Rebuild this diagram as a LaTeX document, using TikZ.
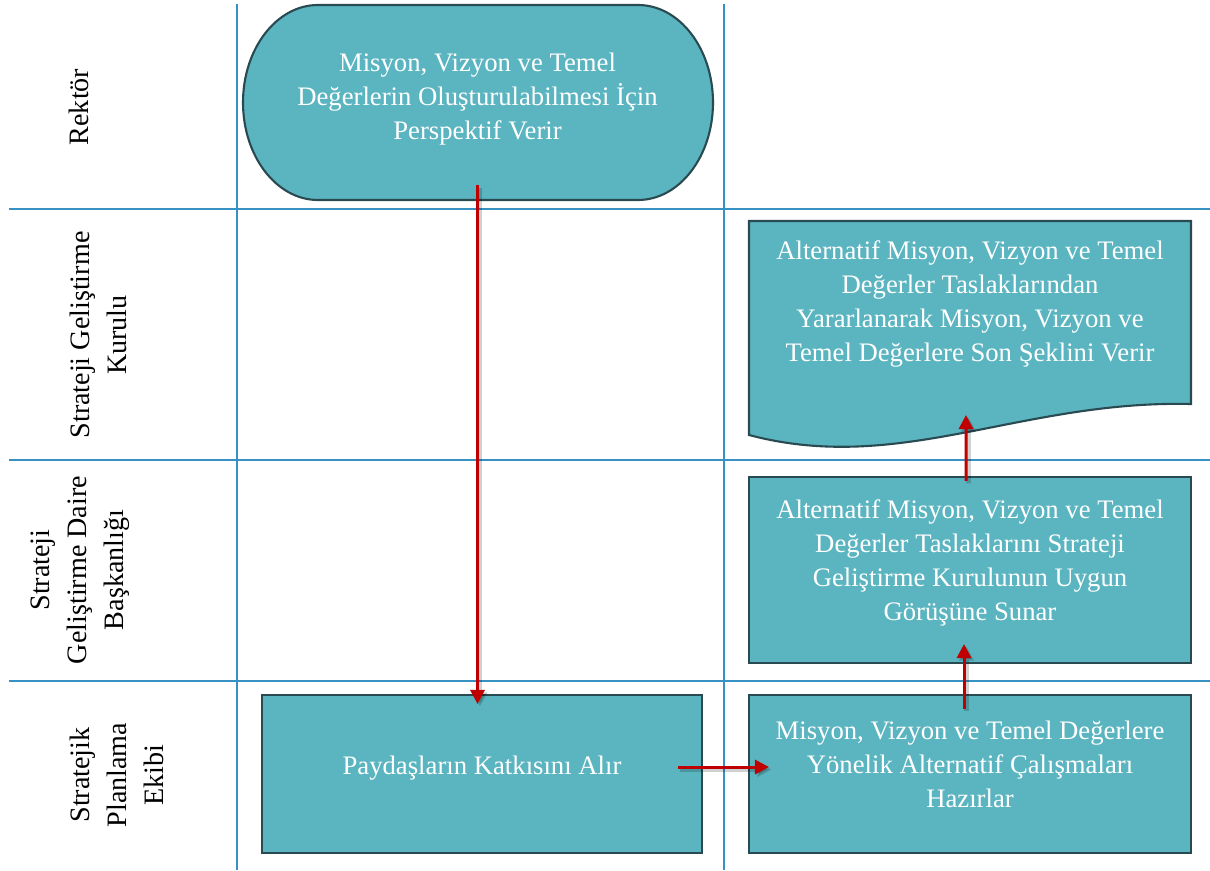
\documentclass[tikz,border=0pt]{standalone}
\usepackage{fontspec}
\setmainfont{Liberation Serif}
\usetikzlibrary{arrows.meta}

\begin{document}
\begin{tikzpicture}[x=0.02cm,y=0.02cm,
    flow_text/.style={text=white,align=center,font=\fontsize{15.2}{19.3}\selectfont},
    flow_box/.style={shape=rectangle,draw=flow_edge,line width=1.2pt,fill=flow_fill,minimum width=8.84cm},
    flow_doc/.style={draw=flow_edge,line width=1.2pt,fill=flow_fill},
    flow_lane/.style={draw=flow_grid,line width=1.1pt},
    flow_arrow/.style={draw=flow_red,line width=1.7pt,-{Triangle[length=8pt,width=8pt]},
        preaction={draw=black,opacity=0.18,line width=2.6pt,transform canvas={xshift=1.4pt,yshift=-1.4pt}}},
    lane_label/.style={rotate=90,align=center,font=\fontsize{16}{21}\selectfont}]
    \definecolor{flow_fill}{RGB}{91,181,192}
    \definecolor{flow_edge}{RGB}{42,74,82}
    \definecolor{flow_grid}{RGB}{55,145,195}
    \definecolor{flow_red}{RGB}{192,0,0}
    \useasboundingbox (0,0) rectangle (1210,870);
    % swimlanes
    \draw[flow_lane] (237,866) to (237,0);
    \draw[flow_lane] (724,866) to (724,0);
    \draw[flow_lane] (9,661) to (1210,661);
    \draw[flow_lane] (9,410) to (1210,410);
    \draw[flow_lane] (9,189) to (1210,189);
    \node[lane_label] (rektor) at (79,763) {Rektör};
    \node[lane_label] (kurul) at (98,535) {Strateji Geliştirme\\Kurulu};
    \node[lane_label] (daire) at (80,300) {Strateji\\Geliştirme Daire\\Başkanlığı};
    \node[lane_label] (ekip) at (117,95) {Stratejik\\Planlama\\Ekibi};
    % steps
    \draw[flow_doc] (318,865) to (638,865) arc[start angle=90,end angle=-90,x radius=75,y radius=97.5]
        to (318,670) arc[start angle=270,end angle=90,x radius=75,y radius=97.5] -- cycle;
    \node[flow_text,minimum width=9.38cm,minimum height=3.9cm] (term) at (477.5,767.5) {};
    \node[flow_text] (termtxt) at (477.5,771) {Misyon, Vizyon ve Temel\\Değerlerin Oluşturulabilmesi İçin\\Perspektif Verir};
    \node[flow_box,minimum width=8.8cm,minimum height=3.16cm,
        label={[flow_text,yshift=3.4pt]center:{Paydaşların Katkısını Alır}}] (pay) at (482,96) {};
    \node[flow_box,minimum height=3.16cm,
        label={[flow_text,yshift=5.7pt]center:{Misyon, Vizyon ve Temel Değerlere\\Yönelik Alternatif Çalışmaları\\Hazırlar}}] (hazir) at (970,96) {};
    \node[flow_box,minimum height=3.72cm,
        label={[flow_text,yshift=4pt]center:{Alternatif Misyon, Vizyon ve Temel\\Değerler Taslaklarını Strateji\\Geliştirme Kurulunun Uygun\\Görüşüne Sunar}}] (sunar) at (970,300) {};
    \draw[flow_doc] (749,649) to (1191,649) to (1191,466) .. controls (1020,470) and (900,395) .. (749,435) -- cycle;
    \node[flow_text] (son) at (970,566) {Alternatif Misyon, Vizyon ve Temel\\Değerler Taslaklarından\\Yararlanarak Misyon, Vizyon ve\\Temel Değerlere Son Şeklini Verir};
    \coordinate (sonin) at (966,455);
    % flow
    \draw[flow_arrow] ([yshift=0.3cm]term.south) to ([yshift=-0.2cm]pay.north -| term.south);
    \draw[flow_arrow] ([xshift=-0.5cm,yshift=0.14cm]pay.east) to ([xshift=0.42cm,yshift=0.14cm]hazir.west);
    \draw[flow_arrow] ([xshift=-0.12cm,yshift=-0.3cm]hazir.north) to ([xshift=-0.12cm,yshift=0.4cm]sunar.south);
    \draw[flow_arrow] ([xshift=-0.08cm,yshift=-0.1cm]sunar.north) to (sonin);
\end{tikzpicture}
\end{document}
